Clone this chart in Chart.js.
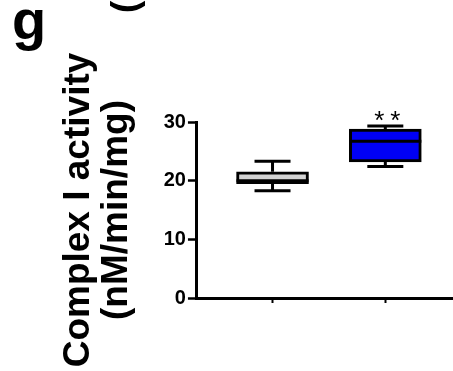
<!DOCTYPE html>
<html>
<head>
<meta charset="utf-8">
<script src="https://cdn.jsdelivr.net/npm/chart.js@4.4.0/dist/chart.umd.min.js"></script>
<style>
  html, body { margin: 0; padding: 0; background: #fff; }
  #wrap { width: 453px; height: 371px; }
</style>
</head>
<body>
<div id="wrap"><canvas id="chartCanvas" width="453" height="371"></canvas></div>
<script>
// box plot values (nM/min/mg)
var groups = [1, 2];
var boxColors = ["#d3d3d3", "#0000f5"];
var whiskerMin = [18.3, 22.4];
var q1 = [19.5, 23.2];
var median = [20.0, 26.7];
var q3 = [21.5, 28.8];
var whiskerMax = [23.3, 29.3];
var stars = ["", "**"];
var yTicks = [0, 10, 20, 30];
var yTitle = ["Complex I activity", "(nM/min/mg)"];
var panelLabel = "g";

var fontFamily = "'Liberation Sans', Arial, sans-serif";

// median, whiskers and significance stars on top of the floating bars
var boxExtras = {
  id: "boxExtras",
  afterDatasetsDraw: function (chart) {
    var ctx = chart.ctx;
    var xs = chart.scales.x;
    var ys = chart.scales.y;
    var meta = chart.getDatasetMeta(0);
    ctx.save();
    ctx.strokeStyle = "#000";
    ctx.lineWidth = 3;
    for (var i = 0; i < groups.length; i++) {
      var x = xs.getPixelForValue(groups[i]);
      var w = meta.data[i].width;
      var cap = w / 4;
      ctx.beginPath();
      ctx.moveTo(x - w / 2, ys.getPixelForValue(median[i]));
      ctx.lineTo(x + w / 2, ys.getPixelForValue(median[i]));
      // upper whisker
      ctx.moveTo(x, ys.getPixelForValue(q3[i]));
      ctx.lineTo(x, ys.getPixelForValue(whiskerMax[i]));
      ctx.moveTo(x - cap, ys.getPixelForValue(whiskerMax[i]));
      ctx.lineTo(x + cap, ys.getPixelForValue(whiskerMax[i]));
      // lower whisker
      ctx.moveTo(x, ys.getPixelForValue(q1[i]));
      ctx.lineTo(x, ys.getPixelForValue(whiskerMin[i]));
      ctx.moveTo(x - cap, ys.getPixelForValue(whiskerMin[i]));
      ctx.lineTo(x + cap, ys.getPixelForValue(whiskerMin[i]));
      ctx.stroke();

      if (stars[i]) {
        ctx.fillStyle = "#000";
        ctx.font = "26px " + fontFamily;
        ctx.letterSpacing = "6px";
        ctx.textAlign = "center";
        ctx.textBaseline = "alphabetic";
        ctx.fillText(stars[i], x + 5, ys.getPixelForValue(whiskerMax[i]) + 3);
      }
    }
    ctx.restore();
  },
  afterDraw: function (chart) {
    var ctx = chart.ctx;
    ctx.save();
    ctx.fillStyle = "#000";
    ctx.font = "bold 56px " + fontFamily;
    ctx.textAlign = "left";
    ctx.textBaseline = "alphabetic";
    ctx.fillText(panelLabel, 12, 39);
    // cut-off bracket of the neighbouring panel's axis title
    ctx.translate(137, 13);
    ctx.rotate(-Math.PI / 2);
    ctx.font = "bold 37px " + fontFamily;
    ctx.fillText("(", 0, 0);
    ctx.restore();
  }
};

var ctx = document.getElementById("chartCanvas");
var activityChart = new Chart(ctx, {
  type: "bar",
  data: {
    datasets: [
      {
        data: groups.map(function (g, i) { return { x: g, y: [q1[i], q3[i]] }; }),
        backgroundColor: boxColors,
        borderColor: "#000",
        borderWidth: 3,
        borderSkipped: false,
        barThickness: 72
      }
    ]
  },
  options: {
    responsive: false,
    animation: false,
    layout: { padding: { left: 59, right: 0, top: 122, bottom: 68 } },
    plugins: {
      legend: { display: false },
      tooltip: { enabled: false }
    },
    scales: {
      x: {
        type: "linear",
        offset: false,
        min: 0.33,
        max: 2.6,
        afterBuildTicks: function (scale) {
          scale.ticks = groups.map(function (v) { return { value: v }; });
        },
        ticks: { display: false },
        grid: { offset: false, drawOnChartArea: false, tickLength: 5, tickWidth: 2, tickColor: "#000" },
        border: { color: "#000", width: 3 }
      },
      y: {
        min: 0,
        max: 30,
        afterBuildTicks: function (scale) {
          scale.ticks = yTicks.map(function (v) { return { value: v }; });
        },
        ticks: {
          color: "#000",
          padding: 2,
          font: { family: fontFamily, size: 20, weight: "bold" }
        },
        grid: { drawOnChartArea: false, tickLength: 9, tickWidth: 2.5, tickColor: "#000" },
        border: { color: "#000", width: 3 },
        title: {
          display: true,
          text: yTitle,
          color: "#000",
          padding: { top: 0, bottom: 25 },
          font: { family: fontFamily, size: 37, weight: "bold", lineHeight: 1.05 }
        }
      }
    }
  },
  plugins: [boxExtras]
});
</script>
</body>
</html>
